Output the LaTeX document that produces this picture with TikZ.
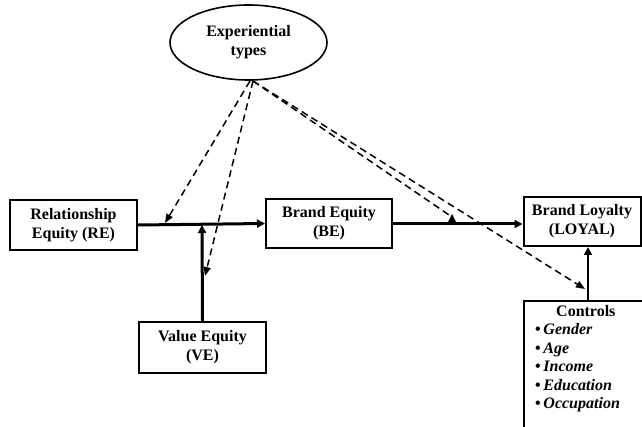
\documentclass[tikz,border=0pt]{standalone}
\usepackage{fontspec}
\setmainfont{Liberation Serif}
\usetikzlibrary{shapes.geometric,arrows.meta}
\begin{document}
\begin{tikzpicture}[x=1pt,y=-1pt,
  txt/.style={font=\fontsize{16}{19}\selectfont\bfseries, align=center, inner sep=0pt},
  box/.style={txt, draw, line width=2pt},
  solidarr/.style={line width=3pt, -{Triangle[length=8pt,width=8pt]}},
  dasharr/.style={line width=1.5pt, dash pattern=on 7pt off 4.5pt, -{Triangle[length=9pt,width=7pt]}},
  dashline/.style={line width=1.5pt, dash pattern=on 7pt off 4.5pt}]
\useasboundingbox (0,0) rectangle (642,427);
\node[txt, draw, ellipse, line width=1.6pt, minimum width=157pt, minimum height=75pt] (exp) at (248.5,42.5) {Experiential\\types};
\node[box, minimum width=127pt, minimum height=50pt] (re) at (73.5,225) {Relationship\\Equity (RE)};
\node[box, minimum width=126pt, minimum height=49pt] (be) at (329,223.5) {Brand Equity\\(BE)};
\node[box, minimum width=127pt, minimum height=51pt] (ve) at (202.5,347.5) {Value Equity\\(VE)};
\node[box, minimum width=117pt, minimum height=49pt] (loyal) at (582,221.5) {Brand Loyalty\\(LOYAL)};
% Controls box (open at right and bottom)
\draw[line width=2pt] (524,432) -- (524,301) -- (648,301);
\coordinate (ctltop) at (588,301);
\node[font=\fontsize{16}{18.5}\selectfont\bfseries, align=left, inner sep=0pt, anchor=north west] (ctl) at (535,305)
  {\hspace*{21pt}Controls\\
   \textbullet\,\textit{Gender}\\
   \textbullet\,\textit{Age}\\
   \textbullet\,\textit{Income}\\
   \textbullet\,\textit{Education}\\
   \textbullet\,\textit{Occupation}};
% solid connectors
\draw[solidarr] (re.east) -- (be.west);
\coordinate (join) at (202,225);
\draw[solidarr] (ve.north) -- (join);
\draw[solidarr] (be.east |- 0,224) -- (loyal.west |- 0,224);
\draw[solidarr, line width=2.2pt] (ctltop) -- (ctltop |- loyal.south);
% dashed moderating arrows
\coordinate (e0) at (250,81);
\coordinate (e1) at (253,81);
\coordinate (tRE) at (165,223);
\coordinate (tVE) at (205,276);
\coordinate (tBL) at (452,217);
\coordinate (tCT) at (585,289);
\draw[dasharr] (e0) -- (tRE);
\draw[dasharr] (e1) -- (tVE);
\draw[dashline] (e1) -- (tBL);
\fill (tBL) ++(-4.5,6) -- ++(4.5,-9) -- ++(4.5,9) -- cycle;
\draw[dasharr] (e1) -- (tCT);
\end{tikzpicture}
\end{document}
